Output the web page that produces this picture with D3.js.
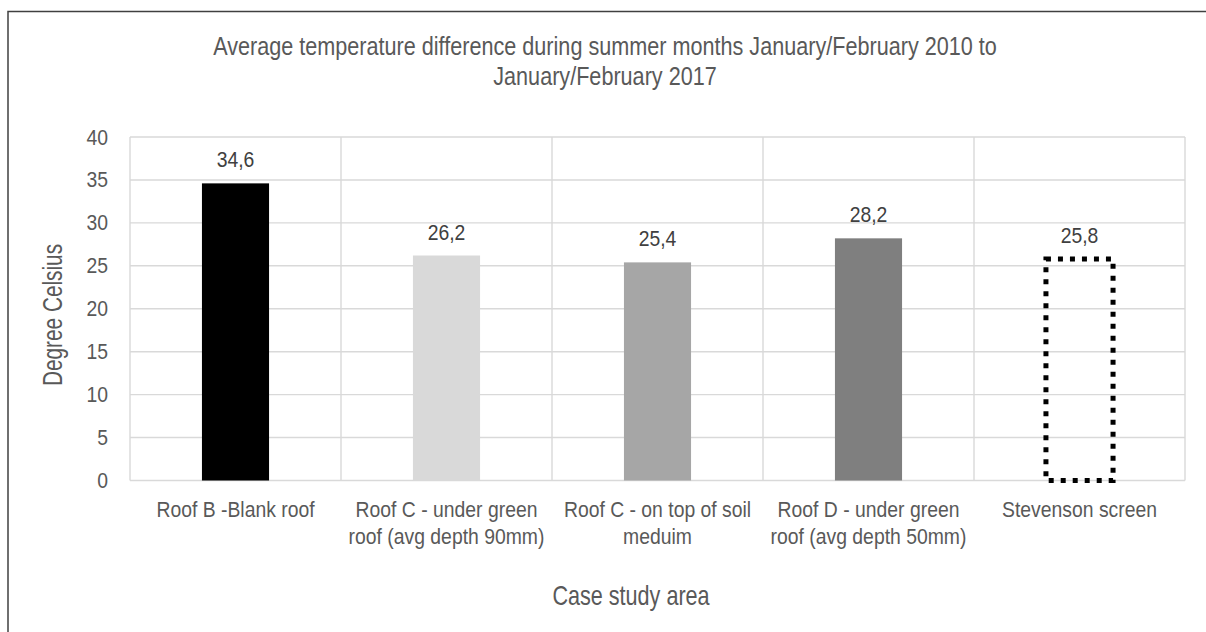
<!DOCTYPE html>
<html>
<head>
<meta charset="utf-8">
<script src="https://cdn.jsdelivr.net/npm/d3@7"></script>
<style>
  html, body { margin: 0; padding: 0; background: #ffffff; }
  svg { display: block; }
  text { font-family: 'Liberation Sans', Arial, sans-serif; }
</style>
</head>
<body>
<svg id="chart" width="1206" height="632"></svg>
<script>
const titleLines = ["Average temperature difference during summer months January/February 2010 to", "January/February 2017"];
const categories = ["Roof B -Blank roof", "Roof C - under green roof (avg depth 90mm)", "Roof C - on top of soil meduim", "Roof D - under green roof (avg depth 50mm)", "Stevenson screen"];
const categoryLines = [["Roof B -Blank roof"], ["Roof C - under green", "roof (avg depth 90mm)"], ["Roof C - on top of soil", "meduim"], ["Roof D - under green", "roof (avg depth 50mm)"], ["Stevenson screen"]];
const values = [34.6, 26.2, 25.4, 28.2, 25.8];
const valueLabels = ["34,6", "26,2", "25,4", "28,2", "25,8"];
const barFills = ["#000000", "#d9d9d9", "#a6a6a6", "#7f7f7f", "none"];
const yTicks = [0, 5, 10, 15, 20, 25, 30, 35, 40];
const yTitle = "Degree Celsius";
const xTitle = "Case study area";

const svg = d3.select("#chart");
const plot = { left: 130, right: 1185, top: 137, bottom: 480.5 };
const SX = 0.88; // horizontal condensing of text (narrow font look)

const x = d3.scaleBand().domain(categories).range([plot.left, plot.right]).paddingInner(0).paddingOuter(0);
const y = d3.scaleLinear().domain([0, 40]).range([plot.bottom, plot.top]);
const barW = x.bandwidth() * 0.318;

// outer border (left & top visible)
svg.append("path")
  .attr("d", `M8,640 L8,11.5 L1215,11.5`)
  .attr("fill", "none").attr("stroke", "#404040").attr("stroke-width", 1.5);

const grid = svg.append("g");
grid.selectAll("line.h").data(yTicks).join("line")
  .attr("x1", plot.left).attr("x2", plot.right)
  .attr("y1", d => y(d)).attr("y2", d => y(d))
  .attr("stroke", "#d9d9d9").attr("stroke-width", 1.4);
const bounds = categories.map(c => x(c)).concat([plot.right]);
grid.selectAll("line.v").data(bounds).join("line")
  .attr("x1", d => d).attr("x2", d => d)
  .attr("y1", plot.top).attr("y2", plot.bottom)
  .attr("stroke", "#d9d9d9").attr("stroke-width", 1.4);

// y tick labels via axis
const pad = 22;
const yAxis = d3.axisLeft(y).tickValues(yTicks).tickSize(0).tickPadding(pad).tickFormat(d3.format("d"));
const yg = svg.append("g").attr("transform", `translate(${plot.left},0)`).call(yAxis);
yg.select(".domain").remove();
yg.selectAll("text").attr("fill", "#595959").style("font-size", "22px")
  .style("font-family", "'Liberation Sans', Arial, sans-serif")
  .attr("x", -pad / SX).attr("transform", `scale(${SX},1)`);

// bars
const data = categories.map((c, i) => ({ c, v: values[i], fill: barFills[i], label: valueLabels[i] }));
svg.append("g").selectAll("rect").data(data).join("rect")
  .attr("x", d => x(d.c) + (x.bandwidth() - barW) / 2)
  .attr("width", barW)
  .attr("y", d => y(d.v))
  .attr("height", d => y(0) - y(d.v))
  .attr("fill", d => d.fill)
  .attr("stroke", d => d.fill === "none" ? "#000000" : "none")
  .attr("stroke-width", d => d.fill === "none" ? 5 : 0)
  .attr("stroke-dasharray", d => d.fill === "none" ? "5,7" : null);

// value labels
svg.append("g").selectAll("text").data(data).join("text")
  .attr("transform", d => `translate(${x(d.c) + x.bandwidth() / 2},${y(d.v) - 16}) scale(${SX},1)`)
  .attr("text-anchor", "middle")
  .attr("fill", "#404040")
  .style("font-size", "22px")
  .text(d => d.label);

// x category labels
const xl = svg.append("g").selectAll("text").data(categories).join("text")
  .attr("transform", c => `translate(${x(c) + x.bandwidth() / 2},517) scale(${SX},1)`)
  .attr("text-anchor", "middle")
  .attr("fill", "#595959")
  .style("font-size", "22px");
xl.each(function(c, i) {
  d3.select(this).selectAll("tspan").data(categoryLines[i]).join("tspan")
    .attr("x", 0)
    .attr("dy", (d, j) => j === 0 ? 0 : 27)
    .text(d => d);
});

// title
svg.append("text").attr("transform", `translate(605,55) scale(0.865,1)`)
  .attr("text-anchor", "middle").attr("fill", "#595959").style("font-size", "25px")
  .selectAll("tspan").data(titleLines).join("tspan")
  .attr("x", 0).attr("dy", (d, i) => i === 0 ? 0 : 30).text(d => d);

// axis titles
svg.append("text").attr("transform", `translate(631,605) scale(0.80,1)`).attr("text-anchor", "middle")
  .attr("fill", "#595959").style("font-size", "27px").text(xTitle);
svg.append("text").attr("transform", "translate(53,315) rotate(-90) scale(0.77,1)").attr("dy", "0.35em")
  .attr("text-anchor", "middle").attr("fill", "#595959").style("font-size", "27px").text(yTitle);
</script>
</body>
</html>
